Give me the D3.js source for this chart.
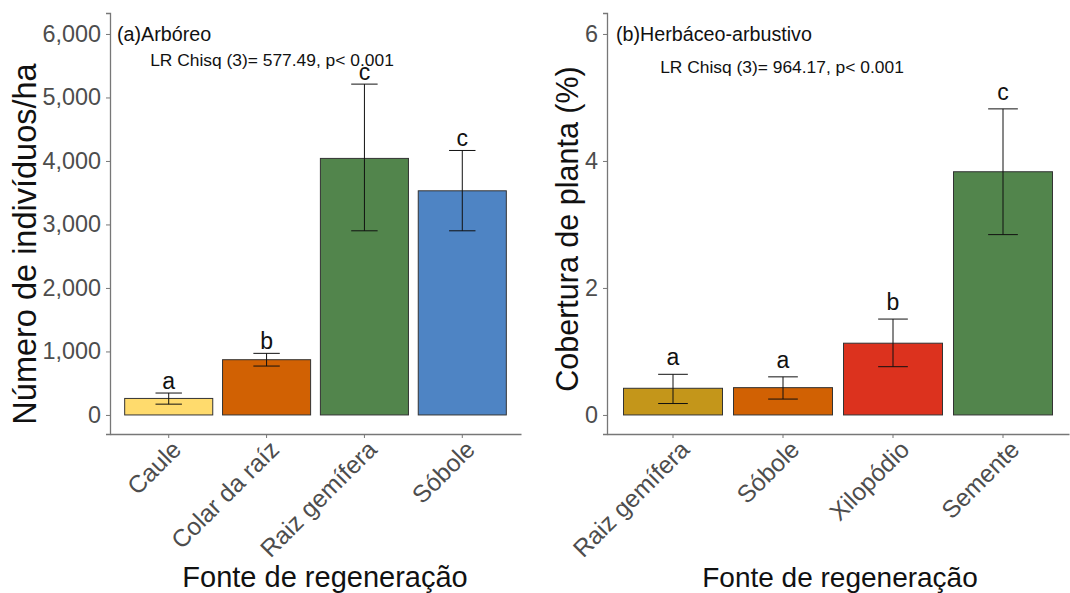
<!DOCTYPE html>
<html>
<head>
<meta charset="utf-8">
<script src="https://cdn.jsdelivr.net/npm/d3@7"></script>
<style>
  html, body { margin: 0; padding: 0; background: #fff; }
  svg { display: block; font-family: "Liberation Sans", Arial, sans-serif; }
</style>
</head>
<body>
<svg id="chart" width="1070" height="593"></svg>
<script>
// Panel (a): tree layer, density of individuals per hectare
const catsA = ["Caule", "Colar da raíz", "Raiz gemífera", "Sóbole"];
const meanA = [260, 870, 4040, 3530];
const lowA = [170, 770, 2900, 2900];
const highA = [345, 970, 5210, 4165];
const letterA = ["a", "b", "c", "c"];
const colorA = ["#FFDB6D", "#D16103", "#52854C", "#4E84C4"];
const ticksA = [0, 1000, 2000, 3000, 4000, 5000, 6000];

// Panel (b): herbaceous-shrub layer, plant cover (%)
const catsB = ["Raiz gemífera", "Sóbole", "Xilopódio", "Semente"];
const meanB = [0.42, 0.43, 1.13, 3.83];
const lowB = [0.18, 0.25, 0.76, 2.84];
const highB = [0.64, 0.60, 1.51, 4.82];
const letterB = ["a", "a", "b", "c"];
const colorB = ["#C4961A", "#D16103", "#DC321E", "#52854C"];
const ticksB = [0, 2, 4, 6];

const svg = d3.select("#chart");

function panel(opts) {
  const { cats, mean, low, high, letters, colors, ticks, fmt,
          x0, x1, yTop, yBot, yDomain, title, titleX, stat, statX, statY,
          letterOffset, labelShift,
          yTitle, yTitleX, yTitleY, yTitleSize, xTitleX, xTitleSize } = opts;

  const x = d3.scaleBand().domain(cats).range([x0, x1]).paddingInner(0.1).paddingOuter(0.15);
  const y = d3.scaleLinear().domain(yDomain).range([yBot, yTop]);
  const g = svg.append("g");

  // bars
  g.selectAll("rect.bar").data(cats).join("rect")
    .attr("class", "bar")
    .attr("x", d => x(d))
    .attr("width", x.bandwidth())
    .attr("y", (d, i) => y(mean[i]))
    .attr("height", (d, i) => y(0) - y(mean[i]))
    .attr("fill", (d, i) => colors[i])
    .attr("stroke", "#333")
    .attr("stroke-width", 1);

  // error bars
  const cap = x.bandwidth() * 0.15;
  const cx = d => x(d) + x.bandwidth() / 2;
  const eb = g.selectAll("g.eb").data(cats).join("g").attr("class", "eb")
    .attr("stroke", "#111").attr("stroke-width", 1);
  eb.append("line")
    .attr("x1", cx).attr("x2", cx)
    .attr("y1", (d, i) => y(low[i])).attr("y2", (d, i) => y(high[i]));
  eb.append("line")
    .attr("x1", d => cx(d) - cap).attr("x2", d => cx(d) + cap)
    .attr("y1", (d, i) => y(high[i])).attr("y2", (d, i) => y(high[i]));
  eb.append("line")
    .attr("x1", d => cx(d) - cap).attr("x2", d => cx(d) + cap)
    .attr("y1", (d, i) => y(low[i])).attr("y2", (d, i) => y(low[i]));

  // significance letters
  g.selectAll("text.letter").data(cats).join("text")
    .attr("class", "letter")
    .attr("x", cx)
    .attr("y", (d, i) => y(high[i]) - letterOffset)
    .attr("text-anchor", "middle")
    .attr("font-size", 23)
    .attr("fill", "#111")
    .text((d, i) => letters[i]);

  // y axis
  const ya = g.append("g").attr("transform", `translate(${x0},0)`)
    .call(d3.axisLeft(y).tickValues(ticks).tickFormat(fmt).tickSize(4).tickPadding(5));
  ya.select(".domain").attr("stroke", "#777").attr("stroke-width", 1.3);
  ya.selectAll(".tick line").attr("stroke", "#777");
  ya.selectAll(".tick text").attr("font-size", 23.4).attr("fill", "#4D4D4D")
    .attr("font-family", "Liberation Sans, Arial, sans-serif");

  // x axis
  const xa = g.append("g").attr("transform", `translate(0,${yBot})`)
    .call(d3.axisBottom(x).tickSize(4).tickSizeOuter(0));
  xa.select(".domain").attr("stroke", "#777").attr("stroke-width", 1.3);
  xa.selectAll(".tick line").attr("stroke", "#777");
  xa.selectAll(".tick text")
    .attr("font-size", 24.5).attr("fill", "#4D4D4D")
    .attr("font-family", "Liberation Sans, Arial, sans-serif")
    .attr("text-anchor", "end")
    .attr("y", 0).attr("dy", 0)
    .attr("transform", `translate(${labelShift},17) rotate(-45)`);

  // panel title and test statistic
  g.append("text").attr("x", titleX).attr("y", 41)
    .attr("font-size", 19.7).attr("fill", "#111").text(title);
  g.append("text").attr("x", statX).attr("y", statY)
    .attr("text-anchor", "middle")
    .attr("font-size", 17.4).attr("fill", "#111").text(stat);

  // axis titles
  g.append("text")
    .attr("transform", `translate(${yTitleX},${yTitleY}) rotate(-90)`)
    .attr("text-anchor", "middle")
    .attr("font-size", yTitleSize).attr("fill", "#111").text(yTitle);
  g.append("text")
    .attr("x", xTitleX).attr("y", 587)
    .attr("text-anchor", "middle")
    .attr("font-size", xTitleSize).attr("fill", "#111").text("Fonte de regeneração");
}

panel({
  cats: catsA, mean: meanA, low: lowA, high: highA, letters: letterA, colors: colorA,
  ticks: ticksA, fmt: d3.format(","),
  x0: 110, x1: 521, yTop: 13, yBot: 434, yDomain: [-300, 6330],
  title: "(a)Arbóreo", titleX: 117,
  stat: "LR Chisq (3)= 577.49, p< 0.001", statX: 272, statY: 66,
  letterOffset: 4, labelShift: 14,
  yTitle: "Número de indivíduos/ha", yTitleX: 36, yTitleY: 244, yTitleSize: 32.5,
  xTitleX: 325, xTitleSize: 29
});

panel({
  cats: catsB, mean: meanB, low: lowB, high: highB, letters: letterB, colors: colorB,
  ticks: ticksB, fmt: d3.format("d"),
  x0: 607, x1: 1069, yTop: 13, yBot: 434, yDomain: [-0.3, 6.33],
  title: "(b)Herbáceo-arbustivo", titleX: 616,
  stat: "LR Chisq (3)= 964.17, p< 0.001", statX: 782, statY: 73,
  letterOffset: 9, labelShift: 18,
  yTitle: "Cobertura de planta (%)", yTitleX: 578, yTitleY: 229, yTitleSize: 30.5,
  xTitleX: 840, xTitleSize: 28
});
</script>
</body>
</html>
